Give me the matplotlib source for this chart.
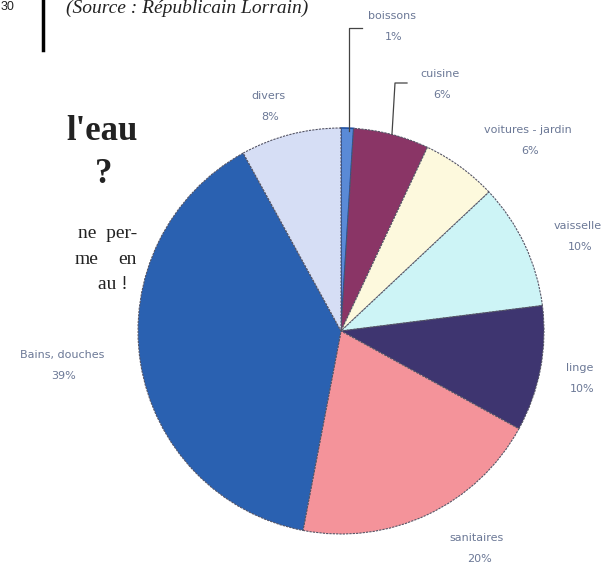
import numpy as np
import matplotlib.pyplot as plt

# data
labels = ["boissons", "cuisine", "voitures - jardin", "vaisselle", "linge",
          "sanitaires", "Bains, douches", "divers"]
values = [1, 6, 6, 10, 10, 20, 39, 8]
colors = ["#5a8ad6", "#8a3566", "#fdf9dd", "#cdf4f6", "#3e3570",
          "#f4939a", "#2a61b1", "#d6def5"]
# label positions in page pixels (x, y from top)
label_xy = [(392, 16), (440, 74), (528, 130), (578, 226), (580, 368),
            (477, 538), (62, 355), (268, 96)]

W, H = 603, 564
fig = plt.figure(figsize=(W / 100, H / 100), dpi=100)
ax = fig.add_axes([0, 0, 1, 1])

cx, cy, r = 341, H - 331, 203
wedges, _ = ax.pie(values, colors=colors, startangle=90, counterclock=False,
                   center=(cx, cy), radius=r, frame=True,
                   wedgeprops=dict(linewidth=0.8, edgecolor="#555566",
                                   linestyle=(0, (2, 1))))
wedges[0].set_edgecolor("#1f4fa0")
wedges[0].set_linestyle("-")
wedges[0].set_linewidth(1.2)

ax.set_xlim(0, W)
ax.set_ylim(0, H)
ax.set_aspect("equal")
ax.axis("off")

lab_col = "#6b7896"
for name, v, (x, y) in zip(labels, values, label_xy):
    ax.text(x, H - y, name, ha="center", va="center", fontsize=8,
            color=lab_col)
    ax.text(x + 2, H - y - 21, f"{v}%", ha="center", va="center",
            fontsize=8, color=lab_col)

# leader lines for small slices
ax.plot([362, 349, 349], [H - 28, H - 28, H - 131], color="#444444", lw=0.9)
ax.plot([407, 395, 392], [H - 83, H - 83, H - 134], color="#444444", lw=0.9)

# page fragments around the chart
ax.text(66, H - 13, "(Source : Républicain Lorrain)", fontsize=14,
        family="Liberation Serif", style="italic", color="#222222",
        ha="left", va="baseline")
ax.text(1, H - 10, "30", fontsize=9, family="Liberation Sans",
        color="#222222", ha="left", va="baseline")
ax.plot([43, 43], [H, H - 50], color="black", lw=2.5)

ax.text(138, H - 140, "l'eau", fontsize=25, family="Liberation Serif",
        weight="bold", color="#222222", ha="right", va="baseline")
ax.text(112, H - 183, "?", fontsize=25, family="Liberation Serif",
        weight="bold", color="#222222", ha="right", va="baseline")
ax.text(137, H - 238, "ne  per-", fontsize=14, family="Liberation Serif",
        color="#222222", ha="right", va="baseline")
ax.text(75, H - 264, "me", fontsize=14, family="Liberation Serif",
        color="#222222", ha="left", va="baseline")
ax.text(137, H - 264, "en", fontsize=14, family="Liberation Serif",
        color="#222222", ha="right", va="baseline")
ax.text(128, H - 289, "au !", fontsize=14, family="Liberation Serif",
        color="#222222", ha="right", va="baseline")

fig.savefig("out.png", dpi=100, facecolor="white")
